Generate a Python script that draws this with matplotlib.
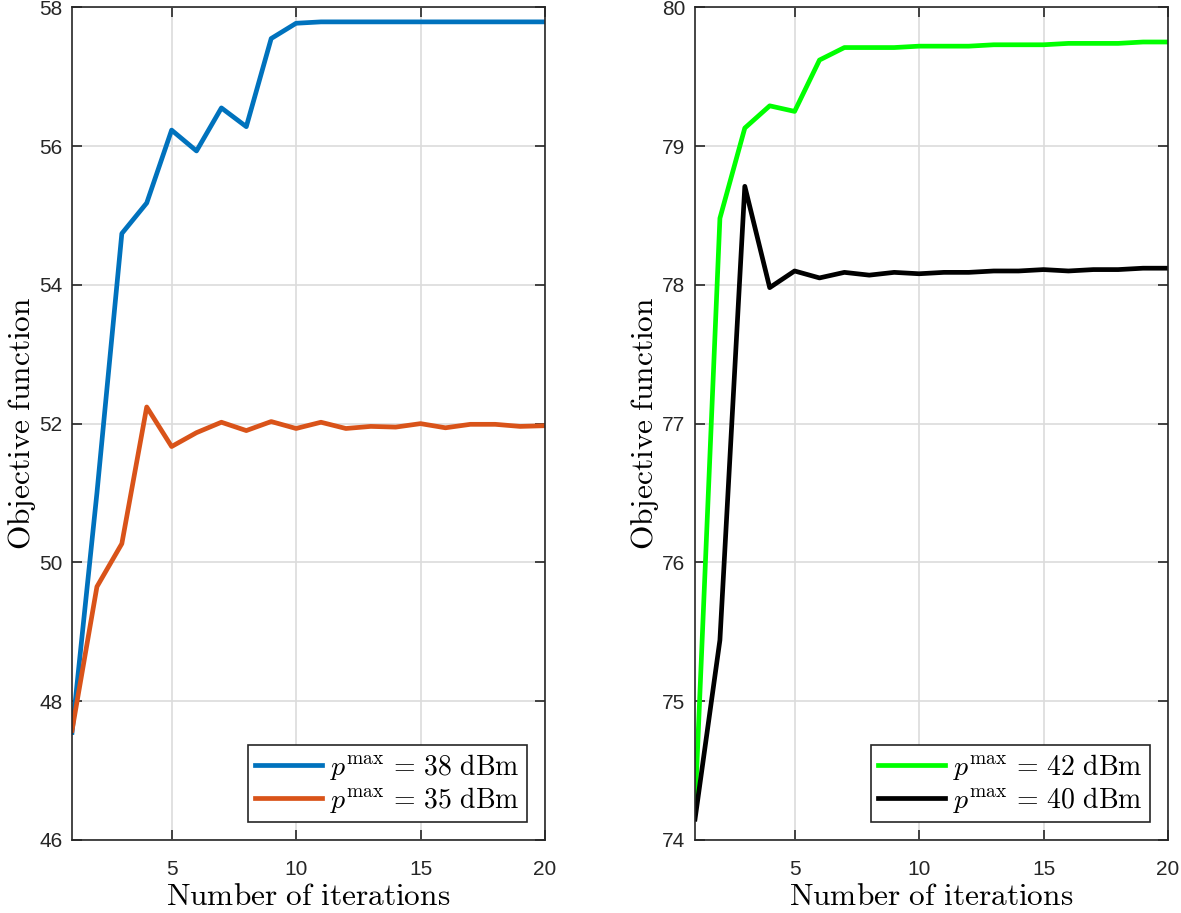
import matplotlib.pyplot as plt

plt.rcParams['mathtext.fontset'] = 'cm'
plt.rcParams['font.family'] = ['Liberation Sans', 'DejaVu Sans']

iterations = list(range(1, 21))

obj_38dbm = [47.55, 51.0, 54.74, 55.18, 56.23, 55.93, 56.55, 56.28, 57.55, 57.77,
             57.79, 57.79, 57.79, 57.79, 57.79, 57.79, 57.79, 57.79, 57.79, 57.79]
obj_35dbm = [47.58, 49.65, 50.27, 52.24, 51.67, 51.87, 52.02, 51.90, 52.03, 51.93,
             52.02, 51.93, 51.96, 51.95, 52.00, 51.94, 51.99, 51.99, 51.96, 51.97]

obj_42dbm = [74.22, 78.48, 79.13, 79.29, 79.25, 79.62, 79.71, 79.71, 79.71, 79.72,
             79.72, 79.72, 79.73, 79.73, 79.73, 79.74, 79.74, 79.74, 79.75, 79.75]
obj_40dbm = [74.15, 75.44, 78.71, 77.98, 78.10, 78.05, 78.09, 78.07, 78.09, 78.08,
             78.09, 78.09, 78.10, 78.10, 78.11, 78.10, 78.11, 78.11, 78.12, 78.12]

fig = plt.figure(figsize=(11.81, 9.13), dpi=100)
ax1 = fig.add_axes([0.061, 0.080, 0.4005, 0.912])
ax2 = fig.add_axes([0.5885, 0.080, 0.4005, 0.912])


def style_axes(ax, yticks):
    ax.set_xlim(1, 20)
    ax.set_ylim(yticks[0], yticks[-1])
    ax.set_xticks([5, 10, 15, 20])
    ax.set_yticks(yticks)
    ax.grid(True, color='#dcdcdc', linewidth=1.2)
    ax.set_axisbelow(True)
    ax.tick_params(direction='in', length=7, width=1.2, top=True, right=True,
                   labelsize=15, color='#262626', labelcolor='#262626')
    ax.tick_params(axis='x', pad=14.5)
    ax.tick_params(axis='y', pad=7)
    for s in ax.spines.values():
        s.set_linewidth(1.2)
        s.set_color('#262626')
    ax.set_xlabel(r'$\mathrm{Number\ of\ iterations}$', fontsize=22.6, labelpad=2)
    ax.set_ylabel(r'$\mathrm{Objective\ function}$', fontsize=22.6, labelpad=1)


ax1.plot(iterations, obj_38dbm, color='#0072BD', lw=3.4, label=r'$p^{\max} \,=\, 38\ \mathrm{dBm}$')
ax1.plot(iterations, obj_35dbm, color='#D95319', lw=3.4, label=r'$p^{\max} \,=\, 35\ \mathrm{dBm}$')
style_axes(ax1, [46, 48, 50, 52, 54, 56, 58])

ax2.plot(iterations, obj_42dbm, color='#00FF00', lw=3.4, label=r'$p^{\max} \,=\, 42\ \mathrm{dBm}$')
ax2.plot(iterations, obj_40dbm, color='black', lw=3.4, label=r'$p^{\max} \,=\, 40\ \mathrm{dBm}$')
style_axes(ax2, [74, 75, 76, 77, 78, 79, 80])

for ax in (ax1, ax2):
    leg = ax.legend(loc='lower right', fontsize=20, fancybox=False, framealpha=1,
                    edgecolor='#262626', handlelength=2.4, borderpad=0.25,
                    labelspacing=0.1, handletextpad=0.3, borderaxespad=0.65)
    leg.get_frame().set_linewidth(1.2)

fig.savefig('out.png', dpi=100)
